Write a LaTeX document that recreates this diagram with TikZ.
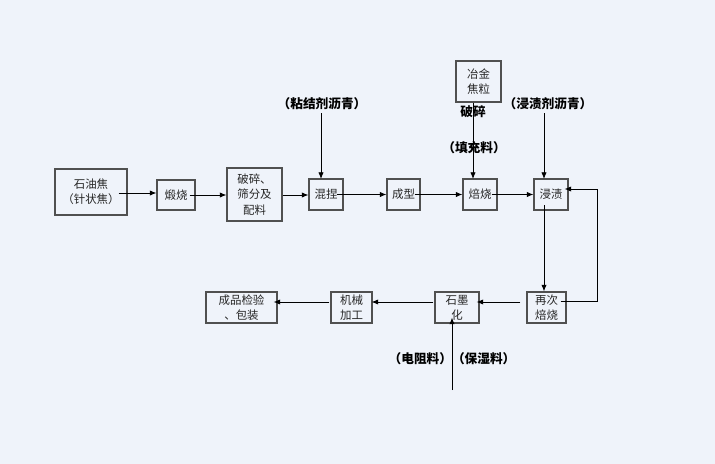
\documentclass[tikz,border=0pt]{standalone}
\usepackage{fontspec}
\setmainfont{Noto Sans CJK SC}
\usetikzlibrary{arrows.meta,calc}
\definecolor{bg}{HTML}{EFF3FA}
\definecolor{boxline}{HTML}{505050}
\tikzset{
  procbox/.style={draw=boxline, line width=0.8pt, inner sep=0pt, align=center,
    font=\fontsize{8.6}{11.4}\selectfont, text=black!85},
  lbl/.style={font=\fontsize{9.5}{11}\selectfont\bfseries, inner sep=0pt},
  arr/.style={-{Latex[length=5pt,width=4pt]}, line width=0.6pt},
  ln/.style={line width=0.6pt}
}
\begin{document}
\begin{tikzpicture}[x=0.75pt,y=-0.75pt]
\fill[bg] (0,0) rectangle (715,464);
\useasboundingbox (0,0) rectangle (715,464);
% row 1
\node[procbox, minimum width=72*0.75pt, minimum height=46*0.75pt] (a) at (91,192) {石油焦\\（针状焦）};
\node[procbox, minimum width=38*0.75pt, minimum height=30*0.75pt] (b) at (176,195) {煅烧};
\node[procbox, minimum width=55*0.75pt, minimum height=53*0.75pt] (c) at (254.5,194.5) {破碎、\\筛分及\\配料};
\node[procbox, minimum width=34*0.75pt, minimum height=31*0.75pt] (d) at (326,194.5) {混捏};
\node[procbox, minimum width=33*0.75pt, minimum height=31*0.75pt] (e) at (403.5,194.5) {成型};
\node[procbox, minimum width=34*0.75pt, minimum height=31*0.75pt] (f) at (480,194.5) {焙烧};
\node[procbox, minimum width=34*0.75pt, minimum height=31*0.75pt] (g) at (551,194.5) {浸渍};
\node[procbox, minimum width=45*0.75pt, minimum height=41*0.75pt] (m) at (478.5,81.5) {冶金\\焦粒};
% row 2
\node[procbox, minimum width=39*0.75pt, minimum height=31*0.75pt] (h) at (546.5,307.5) {再次\\焙烧};
\node[procbox, minimum width=44*0.75pt, minimum height=31*0.75pt] (i) at (457,307.5) {石墨\\化};
\node[procbox, minimum width=41*0.75pt, minimum height=31*0.75pt] (j) at (351.5,307.5) {机械\\加工};
\node[procbox, minimum width=71*0.75pt, minimum height=31*0.75pt] (k) at (241.5,307.5) {成品检验\\、包装};
% labels
\node[lbl] (l1) at (322,104) {（粘结剂沥青）};
\node[lbl] (l2) at (548,104) {（浸渍剂沥青）};
\node[lbl] (l3) at (473,112) {破碎};
\node[lbl] (l4) at (474,148) {（填充料）};
\node[lbl] (l5) at (452,359) {（电阻料）（保湿料）};
\coordinate (s1) at (452,390);
% row 1 arrows
\draw[arr] ($(a.east)+(-9,1)$) -- (b.west|-0,193);
\draw[arr] ($(b.east)+(-6,0)$) -- (c.west|-b.east);
\draw[arr] (c.east|-b.east) -- (d.west|-b.east);
\draw[arr] ($(d.east)+(-7,0)$) -- (e.west);
\draw[arr] ($(e.east)+(-6,0)$) -- (f.west);
\draw[arr] ($(f.east)+(-6,0)$) -- (g.west);
% vertical inputs
\draw[arr] (321,113) -- (321,179);
\draw[arr] (544,113) -- (544,179);
\draw[arr] (m.south-|473,0) -- (473,179);
% loop and down
\draw[arr] (544,205) -- (h.north-|544,0);
\draw[arr] ($(h.east)+(-6,-6)$) -- (597,301.5) -- (597,189) -- ($(g.east)+(-4,-5.5)$);
% row 2 arrows
\draw[arr] ($(h.west)+(-6,-5.5)$) -- ($(i.east)+(-3,-5.5)$);
\draw[arr] ($(i.west)+(-1,-5.5)$) -- ($(j.east)+(-1,-5.5)$);
\draw[arr] ($(j.west)+(-1,-5.5)$) -- ($(k.east)+(-4,-5.5)$);
\draw[arr] (s1) -- ($(i.south)+(-5,-6)$);
\end{tikzpicture}
\end{document}
